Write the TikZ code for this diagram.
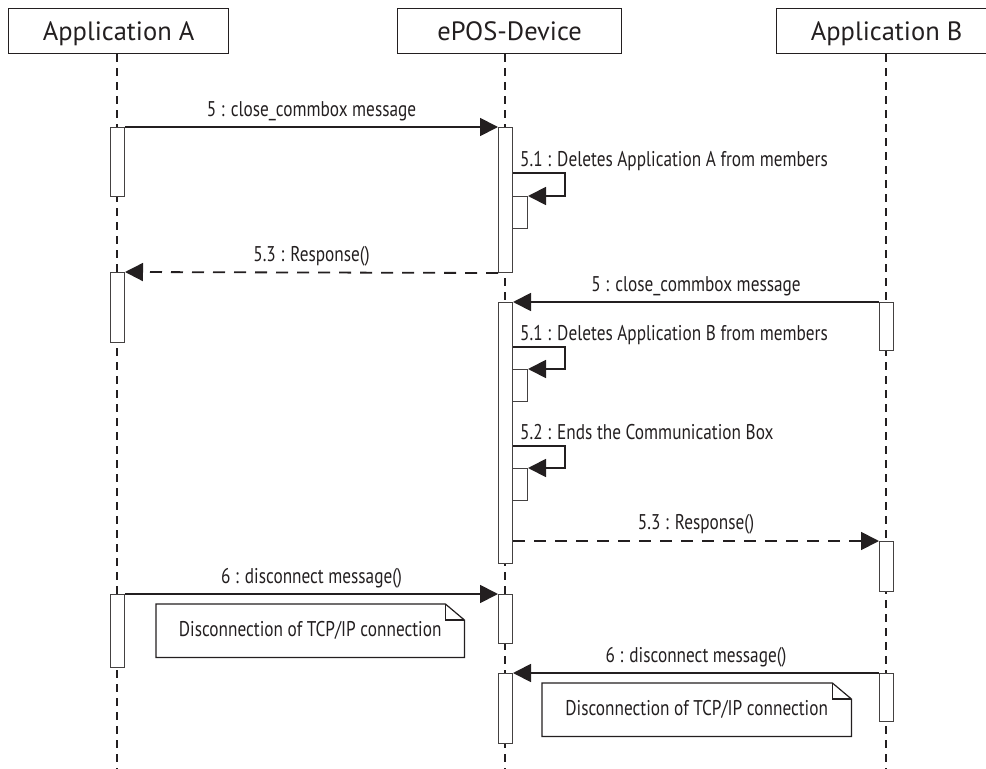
\documentclass[tikz,border=0pt]{standalone}
\usepackage{fontspec}
\setmainfont{PT Sans}
\newfontfamily\condfont[FakeStretch=0.81]{PT Sans}
\usetikzlibrary{arrows.meta,calc}
\definecolor{ink}{HTML}{231F20}
\begin{document}
\begin{tikzpicture}[x=1bp,y=-1bp,
  headbox/.style={draw=ink, line width=1.2bp, minimum width=220bp, minimum height=45bp,
    inner sep=0pt, text=ink, text height=18bp, text depth=0bp,
    font=\fontsize{26.5bp}{30bp}\selectfont, anchor=north west},
  lifeline/.style={draw=ink, line width=2.4bp, dash pattern=on 8bp off 6bp},
  bar/.style={draw=ink!85, fill=white, line width=1bp, minimum width=14bp, inner sep=0pt, anchor=north west},
  sbar/.style={bar, minimum width=15bp, minimum height=32bp},
  msg/.style={draw=ink, line width=1.8bp, -{Triangle[length=18bp,width=18bp]}},
  reply/.style={msg, dash pattern=on 12bp off 9bp},
  lbl/.style={text=ink, font=\condfont\fontsize{21.3bp}{24bp}\selectfont, inner sep=0pt},
  noteline/.style={draw=ink, line width=1.2bp, line join=miter}
]
\useasboundingbox (0,0) rectangle (986,769);

% headers
\node[headbox] (hA) at (8,8) {Application A};
\node[headbox, minimum width=224bp] (hE) at (397,8) {ePOS-Device};
\node[headbox] (hB) at (776,8) {Application B};

% lifelines
\coordinate (lA) at (117,769);
\coordinate (lE) at (505,769);
\coordinate (lB) at (886,769);
\draw[lifeline] (hA.south -| lA) -- (lA);
\draw[lifeline] (hE.south -| lE) -- (lE);
\draw[lifeline] (hB.south -| lB) -- (lB);

% activation bars
\node[bar, minimum height=69bp] (a1) at (110,127) {};
\node[bar, minimum height=70bp] (a2) at (110,272) {};
\node[bar, minimum height=73bp] (a3) at (110,594) {};
\node[bar, minimum height=145bp] (e1) at (498,127) {};
\node[sbar] (e1s) at (512,196) {};
\node[bar, minimum height=261bp] (e2) at (498,302) {};
\node[sbar] (e2s) at (512,369) {};
\node[sbar] (e2t) at (512,468) {};
\node[bar, minimum height=49bp] (e3) at (498,594) {};
\node[bar, minimum height=70bp] (e4) at (498,673) {};
\node[bar, minimum height=48bp] (b1) at (879,302) {};
\node[bar, minimum height=50bp] (b2) at (879,541) {};
\node[bar, minimum height=48bp] (b3) at (879,673) {};

% messages
\draw[msg] (a1.north east) -- (e1.north west)
  node[lbl, midway, anchor=base, yshift=11bp] {5 : close\_commbox message};
\draw[msg] (e1.east |- 0,173) -- ++(52,0) |- (e1s.north east);
\node[lbl, anchor=base west] (l51a) at (520,166) {5.1 : Deletes Application A from members};
\draw[reply] (e1.south west) -- (a2.north east)
  node[lbl, midway, anchor=base, yshift=11bp] {5.3 : Response()};

\draw[msg] (b1.north west) -- (e2.north east)
  node[lbl, midway, anchor=base, yshift=11bp] {5 : close\_commbox message};
\draw[msg] (e2.east |- 0,347) -- ++(52,0) |- (e2s.north east);
\node[lbl, anchor=base west] (l51b) at (520,340) {5.1 : Deletes Application B from members};
\draw[msg] (e2.east |- 0,446) -- ++(52,0) |- (e2t.north east);
\node[lbl, anchor=base west] (l52) at (520,439) {5.2 : Ends the Communication Box};
\draw[reply] (e2.east |- b2.north) -- (b2.north west)
  node[lbl, midway, anchor=base, yshift=12bp] {5.3 : Response()};

\draw[msg] (a3.north east) -- (e3.north west)
  node[lbl, midway, anchor=base, yshift=11bp] {6 : disconnect message()};
\draw[msg] (b3.north west) -- (e4.north east)
  node[lbl, midway, anchor=base, yshift=11bp] {6 : disconnect message()};

% notes
\node[lbl, minimum width=308bp, minimum height=53bp, anchor=north west] (n1) at (156,604) {Disconnection of TCP/IP connection};
\draw[noteline] (n1.north west) -- ($(n1.north east)+(-19,0)$) -- ($(n1.north east)+(0,16)$) -- (n1.south east) -- (n1.south west) -- cycle;
\draw[noteline] ($(n1.north east)+(-19,0)$) -- ++(0,16) -- ($(n1.north east)+(0,16)$);

\node[lbl, minimum width=309bp, minimum height=53bp, anchor=north west] (n2) at (542,683) {Disconnection of TCP/IP connection};
\draw[noteline] (n2.north west) -- ($(n2.north east)+(-19,0)$) -- ($(n2.north east)+(0,16)$) -- (n2.south east) -- (n2.south west) -- cycle;
\draw[noteline] ($(n2.north east)+(-19,0)$) -- ++(0,16) -- ($(n2.north east)+(0,16)$);
\end{tikzpicture}
\end{document}
